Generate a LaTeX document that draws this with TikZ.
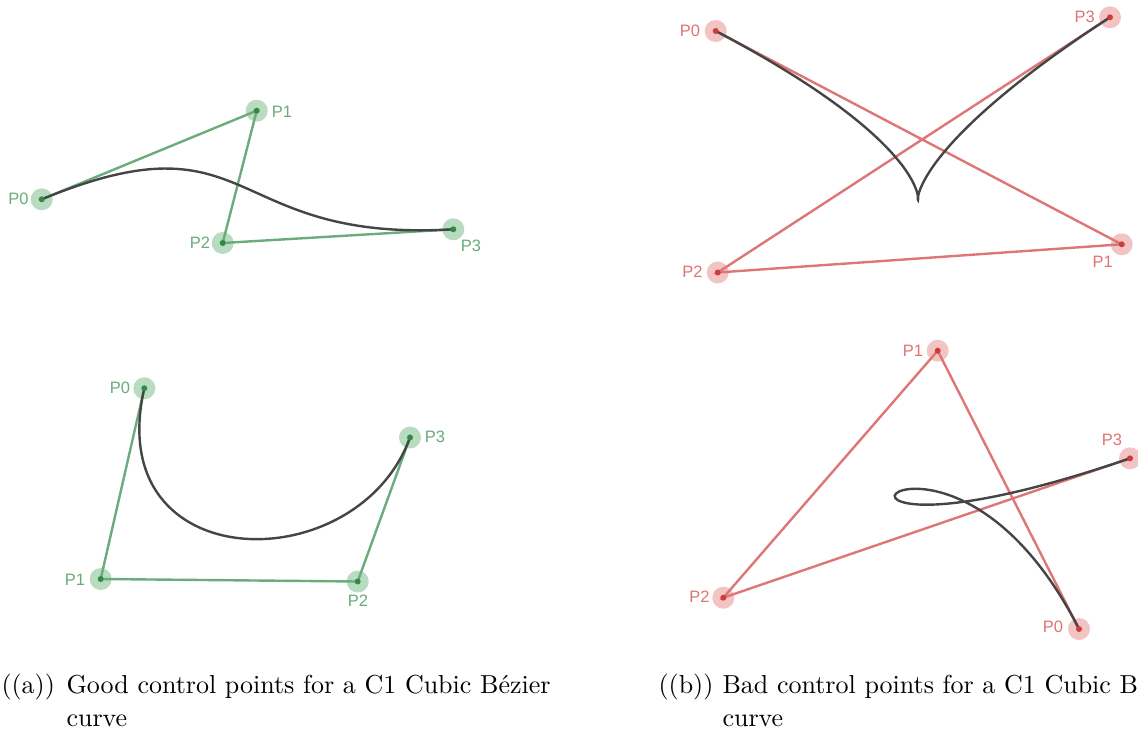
\documentclass[tikz,border=0pt]{standalone}
\usepackage{fontspec}
\newfontfamily\lblfont{Liberation Sans}
\definecolor{gline}{HTML}{6CAB7B}
\definecolor{ghalo}{HTML}{B9DBBF}
\definecolor{gdot}{HTML}{2E8A45}
\definecolor{gtext}{HTML}{6AAA7A}
\definecolor{rline}{HTML}{DE7676}
\definecolor{rhalo}{HTML}{F2C4C4}
\definecolor{rdot}{HTML}{CF3A3A}
\definecolor{rtext}{HTML}{E07272}
\definecolor{curvecol}{HTML}{454545}
\begin{document}
\begin{tikzpicture}[x=1pt,y=-1pt,
  ctrl/.style={line width=2.4pt},
  bez/.style={draw=curvecol,line width=2.4pt},
  lbl/.style={inner sep=0pt,anchor=center,text height=12pt,text depth=0pt,font=\lblfont\fontsize{16.5}{16.5}\selectfont},
  captxt/.style={inner sep=0pt,anchor=base west,scale=2.6,transform shape,font=\fontsize{10}{12}\selectfont}
]
\useasboundingbox (0,0) rectangle (1138,731);
% ---------- coordinates ----------
\coordinate (a1p0) at (41.7,199.3);
\coordinate (a1p1) at (256.7,110.7);
\coordinate (a1p2) at (222.7,243.0);
\coordinate (a1p3) at (453.3,229.3);
\coordinate (a2p0) at (144.3,388.3);
\coordinate (a2p1) at (100.7,579.0);
\coordinate (a2p2) at (357.7,581.5);
\coordinate (a2p3) at (410.0,437.5);
\coordinate (b1p0) at (715.7,31.0);
\coordinate (b1p1) at (1121.7,244.3);
\coordinate (b1p2) at (717.7,272.5);
\coordinate (b1p3) at (1110.0,17.3);
\coordinate (b2p0) at (1079.0,629.0);
\coordinate (b2p1) at (937.7,350.7);
\coordinate (b2p2) at (723.3,597.7);
\coordinate (b2p3) at (1130.0,458.3);
% ---------- halos ----------
\foreach \p in {a1p0,a1p1,a1p2,a1p3,a2p0,a2p1,a2p2,a2p3}
  \fill[ghalo] (\p) circle (11pt);
\foreach \p in {b1p0,b1p1,b1p2,b1p3,b2p0,b2p1,b2p2,b2p3}
  \fill[rhalo] (\p) circle (11pt);
% ---------- control polygons ----------
\draw[ctrl,gline] (a1p0) -- (a1p1) -- (a1p2) -- (a1p3);
\draw[ctrl,gline] (a2p0) -- (a2p1) -- (a2p2) -- (a2p3);
\draw[ctrl,rline] (b1p0) -- (b1p1) -- (b1p2) -- (b1p3);
\draw[ctrl,rline] (b2p0) -- (b2p1) -- (b2p2) -- (b2p3);
% ---------- curves ----------
\draw[bez] (a1p0) .. controls (a1p1) and (a1p2) .. (a1p3);
\draw[bez] (a2p0) .. controls (a2p1) and (a2p2) .. (a2p3);
\draw[bez] (b1p0) .. controls (b1p1) and (b1p2) .. (b1p3);
\draw[bez] (b2p0) .. controls (b2p1) and (b2p2) .. (b2p3);
% ---------- dots ----------
\foreach \p in {a1p0,a1p1,a1p2,a1p3,a2p0,a2p1,a2p2,a2p3}
  \fill[gdot] (\p) circle (3pt);
\foreach \p in {b1p0,b1p1,b1p2,b1p3,b2p0,b2p1,b2p2,b2p3}
  \fill[rdot] (\p) circle (3pt);
% ---------- labels ----------
\node[lbl,gtext] (la1p0) at (18.5,198.5) {P0};
\node[lbl,gtext] (la1p1) at (282,111.7) {P1};
\node[lbl,gtext] (la1p2) at (200,242.7) {P2};
\node[lbl,gtext] (la1p3) at (471,245.7) {P3};
\node[lbl,gtext] (la2p0) at (120,387) {P0};
\node[lbl,gtext] (la2p1) at (75,579) {P1};
\node[lbl,gtext] (la2p2) at (358,600.7) {P2};
\node[lbl,gtext] (la2p3) at (435,436.7) {P3};
\node[lbl,rtext] (lb1p0) at (690,30.7) {P0};
\node[lbl,rtext] (lb1p1) at (1102.7,261.7) {P1};
\node[lbl,rtext] (lb1p2) at (692.5,271.7) {P2};
\node[lbl,rtext] (lb1p3) at (1084.7,16.7) {P3};
\node[lbl,rtext] (lb2p0) at (1053,626.7) {P0};
\node[lbl,rtext] (lb2p1) at (913,350) {P1};
\node[lbl,rtext] (lb2p2) at (699.5,596.7) {P2};
\node[lbl,rtext] (lb2p3) at (1112,439) {P3};
% ---------- captions ----------
\node[captxt] (capa) at (1,693) {((a))};
\node[captxt] (capa1) at (66,693) {Good control points for a C1 Cubic Bézier};
\node[captxt] (capa2) at (66,726) {curve};
\node[captxt] (capb) at (658,693) {((b))};
\node[captxt] (capb1) at (722,693) {Bad control points for a C1 Cubic Bézier};
\node[captxt] (capb2) at (722,726) {curve};
\end{tikzpicture}
\end{document}
